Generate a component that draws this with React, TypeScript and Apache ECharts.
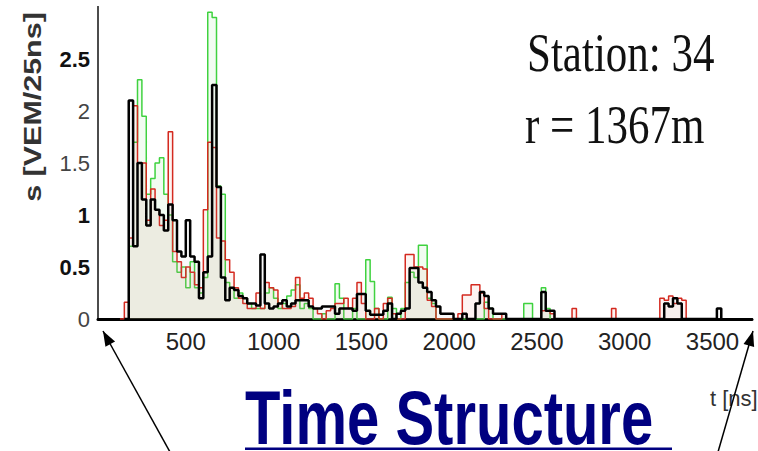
import React, { useEffect, useRef } from "react";
import * as echarts from "echarts";

// Histogram bins (bin start in ns, signal in VEM/25ns), 25 ns wide
const BIN = 25;
const blackBins: [number, number][] = [
  [175, 2.1], [200, 0.7], [225, 1.5], [250, 1.15], [275, 0.9], [300, 1.15], [325, 1.05], [350, 1.0],
  [375, 0.85], [400, 1.1], [425, 0.95], [450, 0.65], [475, 0.6], [500, 0.95], [525, 0.6], [550, 0.55],
  [575, 0.2], [600, 0.45], [625, 0.6], [650, 2.25], [675, 1.27], [700, 0.4], [725, 0.18], [750, 0.3],
  [775, 0.28], [800, 0.22], [825, 0.2], [850, 0.15], [875, 0.15], [900, 0.13], [925, 0.62], [950, 0.15],
  [975, 0.1], [1000, 0.12], [1025, 0.15], [1050, 0.18], [1075, 0.12], [1100, 0.15], [1125, 0.18],
  [1150, 0.18], [1175, 0.18], [1200, 0.12], [1225, 0.1], [1250, 0.1], [1275, 0.12], [1300, 0.12],
  [1325, 0.12], [1350, 0.05], [1375, 0.1], [1400, 0.1], [1425, 0.1], [1450, 0.08], [1475, 0.24],
  [1500, 0.24], [1525, 0.08], [1550, 0.04], [1575, 0.04], [1600, 0.04], [1625, 0.08], [1650, 0.15],
  [1700, 0.05], [1725, 0.08], [1750, 0.1], [1775, 0.49], [1800, 0.49], [1825, 0.35], [1850, 0.3],
  [1875, 0.26], [1900, 0.18], [1925, 0.12], [1950, 0.05], [1975, 0.05], [2000, 0.05], [2075, 0.05],
  [2150, 0.15], [2175, 0.26], [2200, 0.22], [2225, 0.1], [2250, 0.05], [2275, 0.05], [2300, 0.05],
  [2525, 0.26], [2550, 0.08], [2575, 0.08], [3225, 0.15], [3250, 0.12], [3275, 0.2], [3300, 0.15],
  [3525, 0.1],
];
const redBins: [number, number][] = [
  [150, 0.16], [175, 0.78], [200, 2.05], [225, 1.5], [250, 1.5], [275, 0.95], [300, 1.25], [325, 1.05],
  [350, 0.9], [375, 0.95], [400, 1.8], [425, 0.65], [450, 0.55], [475, 0.4], [500, 0.5], [525, 0.45],
  [550, 0.33], [575, 0.3], [600, 1.05], [625, 1.7], [650, 1.65], [675, 0.78], [700, 0.75], [725, 0.57],
  [750, 0.45], [775, 0.3], [800, 0.2], [825, 0.15], [850, 0.1], [875, 0.1], [900, 0.25], [925, 0.1],
  [950, 0.35], [975, 0.3], [1000, 0.28], [1025, 0.15], [1050, 0.1], [1075, 0.1], [1100, 0.12],
  [1125, 0.4], [1150, 0.2], [1175, 0.25], [1200, 0.2], [1225, 0.1], [1250, 0.05], [1300, 0.08],
  [1325, 0.1], [1350, 0.15], [1375, 0.15], [1400, 0.2], [1425, 0.1], [1450, 0.2], [1475, 0.35],
  [1500, 0.15], [1575, 0.1], [1625, 0.15], [1650, 0.2], [1675, 0.05], [1750, 0.62], [1775, 0.62],
  [1800, 0.5], [1825, 0.5], [1850, 0.48], [1875, 0.18], [1900, 0.12], [2050, 0.05], [2075, 0.23],
  [2100, 0.23], [2125, 0.33], [2150, 0.33], [2175, 0.25], [2200, 0.1], [2300, 0.05], [2525, 0.08],
  [2550, 0.08], [2575, 0.05], [2700, 0.1], [2925, 0.1], [3200, 0.2], [3225, 0.18], [3250, 0.22],
  [3275, 0.15], [3300, 0.2], [3325, 0.18],
];
const greenBins: [number, number][] = [
  [175, 0.7], [200, 1.7], [225, 2.3], [250, 1.95], [275, 1.2], [300, 1.35], [325, 1.5], [350, 1.55],
  [375, 1.2], [400, 1.0], [425, 0.55], [450, 0.45], [475, 0.5], [500, 0.3], [525, 0.55], [550, 0.3],
  [575, 0.25], [600, 0.4], [625, 2.95], [650, 2.9], [675, 1.28], [700, 1.2], [725, 0.35], [750, 0.3],
  [775, 0.2], [800, 0.25], [825, 0.2], [850, 0.15], [875, 0.1], [900, 0.1], [925, 0.1], [950, 0.25],
  [975, 0.3], [1000, 0.2], [1025, 0.1], [1050, 0.15], [1075, 0.22], [1100, 0.28], [1125, 0.33],
  [1150, 0.1], [1175, 0.15], [1200, 0.1], [1275, 0.05], [1350, 0.34], [1375, 0.2], [1450, 0.1],
  [1525, 0.57], [1550, 0.36], [1575, 0.1], [1650, 0.21], [1675, 0.1], [1725, 0.1], [1750, 0.35],
  [1775, 0.45], [1800, 0.4], [1825, 0.71], [1850, 0.71], [1875, 0.2], [1900, 0.15], [2200, 0.16],
  [2225, 0.1], [2425, 0.15], [2450, 0.15], [2525, 0.3], [2550, 0.1],
];

const yTicks = [0, 0.5, 1, 1.5, 2, 2.5];
const xTicks = [500, 1000, 1500, 2000, 2500, 3000, 3500];

function toSteps(bins: [number, number][]): [number, number][] {
  const m = new Map<number, number>();
  bins.forEach(([t, v]) => m.set(t, v));
  const first = bins[0][0];
  const last = bins[bins.length - 1][0];
  const out: [number, number][] = [];
  for (let t = first - BIN; t <= last; t += BIN) out.push([t, m.get(t) ?? 0]);
  out.push([last + BIN, 0]);
  return out;
}

function arrowHead(tip: [number, number], tail: [number, number], len: number, half: number) {
  const dx = tip[0] - tail[0];
  const dy = tip[1] - tail[1];
  const L = Math.hypot(dx, dy);
  const ux = dx / L, uy = dy / L;
  const bx = tip[0] - ux * len, by = tip[1] - uy * len;
  const nx = -uy, ny = ux;
  return [tip, [bx + nx * half, by + ny * half], [bx - nx * half, by - ny * half]];
}

export default function App() {
  const ref = useRef<HTMLDivElement>(null);
  useEffect(() => {
    if (!ref.current) return;
    const chart = echarts.init(ref.current, null, { renderer: "svg" });
    const xMin = 0, xMax = 3725;
    const leftTip: [number, number] = [103, 331], leftTail: [number, number] = [170, 452];
    const rightTip: [number, number] = [753, 331], rightTail: [number, number] = [718, 452];
    const mkSeries = (name: string, bins: [number, number][], color: string, width: number, fill: string, z: number) => ({
      name,
      type: "line",
      step: "end",
      showSymbol: false,
      symbol: "none",
      data: toSteps(bins),
      lineStyle: { color, width },
      areaStyle: { color: fill },
      z,
    });
    chart.setOption({
      animation: false,
      backgroundColor: "#ffffff",
      grid: { left: 98, right: 6, top: 7, bottom: 132, show: false },
      xAxis: [
        {
          type: "value", min: xMin, max: xMax, interval: 500,
          axisLine: { show: true, lineStyle: { color: "#000", width: 2 } },
          axisTick: { show: false }, splitLine: { show: false },
          axisLabel: {
            fontSize: 24, color: "#222", margin: 10, fontFamily: "'Liberation Sans', Arial, sans-serif",
            formatter: (v: number) => (xTicks.includes(v) ? String(v) : ""),
          },
        },
        {
          type: "value", position: "top", min: xMin, max: xMax,
          axisLine: { show: true, lineStyle: { color: "#000", width: 3 } },
          axisTick: { show: false }, splitLine: { show: false }, axisLabel: { show: false },
        },
      ],
      yAxis: [
        {
          type: "value", min: 0, max: 3, interval: 0.5,
          axisLine: { show: true, lineStyle: { color: "#000", width: 2 } },
          axisTick: { show: false }, splitLine: { show: false },
          axisLabel: {
            margin: 8, fontFamily: "'Liberation Sans', Arial, sans-serif",
            formatter: (v: number) => {
              if (!yTicks.includes(v)) return "";
              return v === 1 || v === 2.5 || v === 0.5 ? `{b|${v}}` : `{n|${v}}`;
            },
            rich: {
              b: { fontSize: 22, fontWeight: "bold", color: "#111", fontFamily: "'Liberation Sans', Arial, sans-serif" },
              n: { fontSize: 22, color: "#444", fontFamily: "'Liberation Sans', Arial, sans-serif" },
            },
          },
        },
        {
          type: "value", position: "right", min: 0, max: 3,
          axisLine: { show: true, lineStyle: { color: "#666", width: 1.5 } },
          axisTick: { show: false }, splitLine: { show: false }, axisLabel: { show: false },
        },
      ],
      series: [
        mkSeries("green", greenBins, "#3fd23f", 1.5, "rgba(140,230,140,0.16)", 1),
        mkSeries("red", redBins, "#d42a20", 1.5, "rgba(230,140,125,0.14)", 2),
        mkSeries("black", blackBins, "#000000", 2.5, "rgba(170,170,170,0.10)", 3),
      ],
      graphic: [
        {
          type: "text", x: 33, y: 107, rotation: Math.PI / 2, scaleX: 1.27,
          style: { text: "s [VEM/25ns]", font: "bold 24px 'Liberation Sans', Arial, sans-serif", fill: "#333", align: "center", verticalAlign: "middle" },
        },
        {
          type: "text", x: 527, y: 53, scaleY: 1.3,
          style: { text: "Station: 34", font: "43px 'Liberation Serif', 'Times New Roman', serif", fill: "#111", align: "left", verticalAlign: "middle" },
        },
        {
          type: "text", x: 525, y: 125, scaleY: 1.3,
          style: { text: "r = 1367m", font: "43px 'Liberation Serif', 'Times New Roman', serif", fill: "#111", align: "left", verticalAlign: "middle" },
        },
        {
          type: "text", x: 710, y: 398,
          style: { text: "t [ns]", font: "22px 'Liberation Sans', Arial, sans-serif", fill: "#333", align: "left", verticalAlign: "middle" },
        },
        {
          type: "text", x: 245, y: 418, scaleY: 1.3,
          style: { text: "Time Structure", font: "bold 58px 'Liberation Sans', Arial, sans-serif", fill: "#000080", align: "left", verticalAlign: "middle" },
        },
        { type: "rect", shape: { x: 245, y: 447.5, width: 427, height: 2.5 }, style: { fill: "#000080" } },
        { type: "line", shape: { x1: leftTail[0], y1: leftTail[1], x2: leftTip[0], y2: leftTip[1] }, style: { stroke: "#000", lineWidth: 1.5 } },
        { type: "polygon", shape: { points: arrowHead(leftTip, leftTail, 15, 5.5) }, style: { fill: "#000" } },
        { type: "line", shape: { x1: rightTail[0], y1: rightTail[1], x2: rightTip[0], y2: rightTip[1] }, style: { stroke: "#000", lineWidth: 1.5 } },
        { type: "polygon", shape: { points: arrowHead(rightTip, rightTail, 15, 5.5) }, style: { fill: "#000" } },
      ],
    });
    return () => chart.dispose();
  }, []);
  return <div ref={ref} style={{ position: "fixed", left: 0, top: 0, width: 758, height: 451, background: "#fff" }} />;
}
